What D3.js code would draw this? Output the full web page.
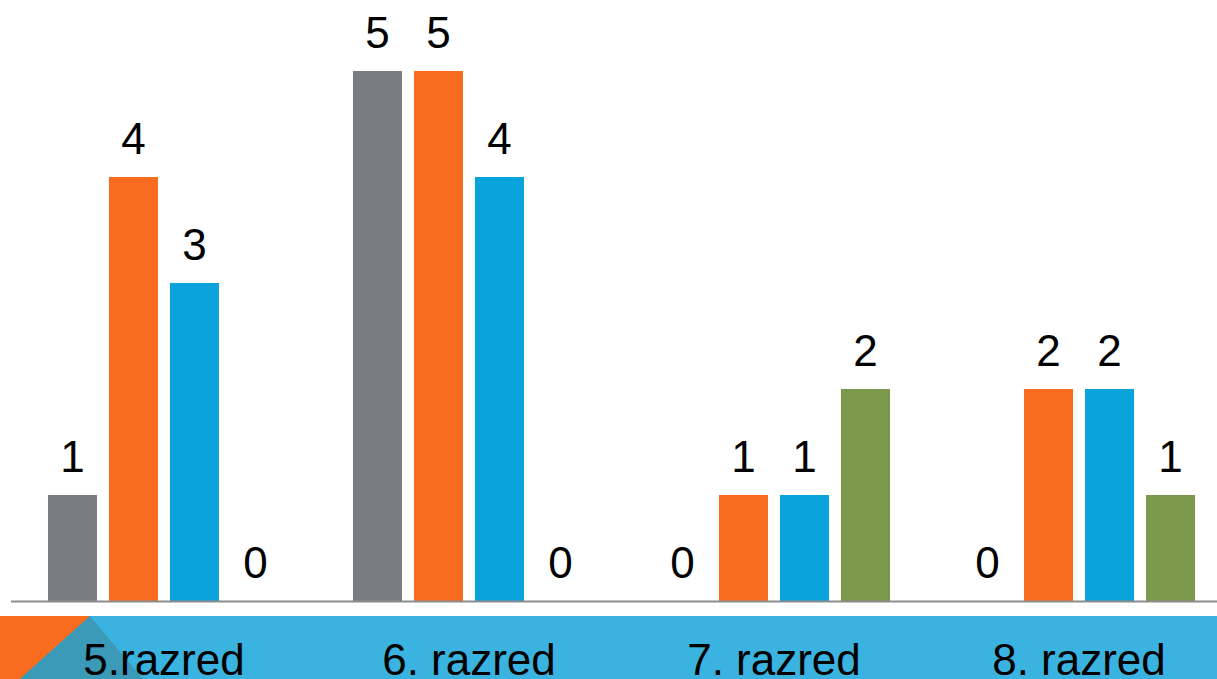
<!DOCTYPE html>
<html><head><meta charset="utf-8">
<script src="https://cdn.jsdelivr.net/npm/d3@7"></script>
<style>html,body{margin:0;padding:0;background:#fff;overflow:hidden}</style>
</head><body>
<svg id="c" width="1217" height="679"></svg>
<script>
const categories = ["5.razred", "6. razred", "7. razred", "8. razred"];
const seriesNames = ["s1", "s2", "s3", "s4"];
const seriesColors = ["#7B7C80", "#F96B1E", "#0BA3DB", "#7C984B"];
const s1 = [1, 5, 0, 0];
const s2 = [4, 5, 1, 2];
const s3 = [3, 4, 1, 2];
const s4 = [0, 0, 2, 1];
const seriesValues = [s1, s2, s3, s4];

const svg = d3.select("#c");
const W = 1217, H = 679;
const baseY = 601;

// bottom band
svg.append("rect").attr("x", 0).attr("y", 616).attr("width", W).attr("height", H - 616).attr("fill", "#3AB3E0");
svg.append("path").attr("d", "M0,616 L90,616 L20,679 L0,679 Z").attr("fill", "#F96B1E");
svg.append("path").attr("d", "M90,616 L143,679 L20,679 Z").attr("fill", "#3A9AB8");

const x0 = d3.scaleBand().domain(categories).range([11.5, 11.5 + 305 * 4]).paddingInner(0).paddingOuter(0);
const x1 = d3.scaleBand().domain(seriesNames).range([0, 305]).paddingInner(12 / 61).paddingOuter(0.598);
const y = d3.scaleLinear().domain([0, 5]).range([baseY, 71]);

const g = svg.append("g");
categories.forEach((c, ci) => {
  seriesNames.forEach((s, si) => {
    const v = seriesValues[si][ci];
    const bx = x0(c) + x1(s);
    if (v > 0) {
      g.append("rect").attr("x", bx).attr("y", y(v)).attr("width", x1.bandwidth())
        .attr("height", baseY - y(v)).attr("fill", seriesColors[si]);
    }
    g.append("text").attr("x", bx + x1.bandwidth() / 2).attr("y", y(v) - 23)
      .attr("text-anchor", "middle").attr("font-family", "Liberation Sans, Arial, sans-serif")
      .attr("font-size", 44).attr("fill", "#000").text(v);
  });
});

// axis line
svg.append("line").attr("x1", 11).attr("x2", W).attr("y1", baseY + 0.5).attr("y2", baseY + 0.5)
  .attr("stroke", "#8C8C8C").attr("stroke-width", 2);

// category labels
svg.selectAll("text.cat").data(categories).enter().append("text").attr("class", "cat")
  .attr("x", d => x0(d) + x0.bandwidth() / 2).attr("y", 675)
  .attr("text-anchor", "middle").attr("font-family", "Liberation Sans, Arial, sans-serif")
  .attr("font-size", 44).attr("fill", "#000").text(d => d);
</script>
</body></html>
